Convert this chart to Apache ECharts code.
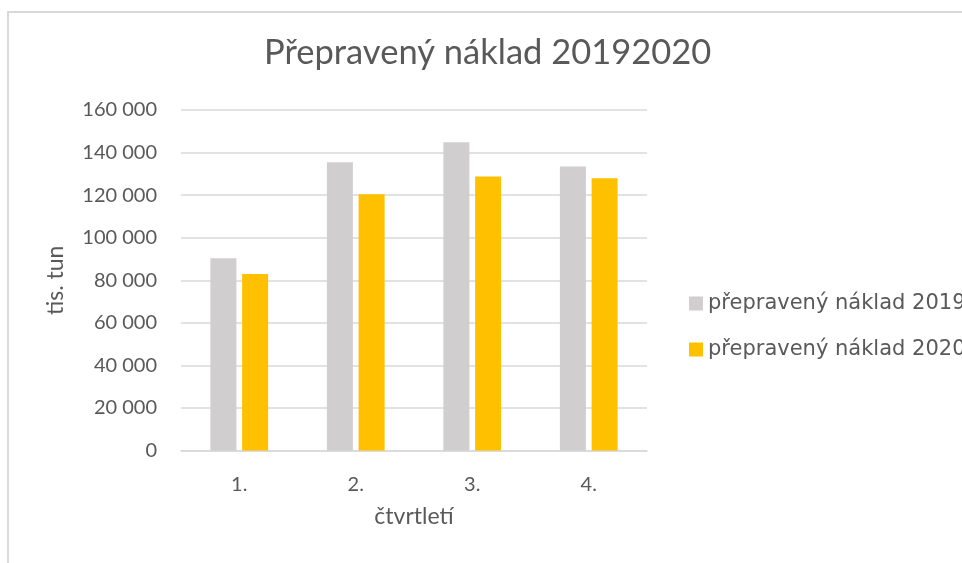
<!DOCTYPE html>
<html>
<head>
<meta charset="utf-8">
<script src="https://cdn.jsdelivr.net/npm/echarts@6/dist/echarts.min.js"></script>
<style>
html,body{margin:0;padding:0;background:#fff;}
#chart{width:962px;height:563px;}
</style>
</head>
<body>
<div id="chart"></div>
<script>
const titleText = 'Přepravený náklad 20192020';
const categories = ['1.', '2.', '3.', '4.'];
const seriesNames = ['přepravený náklad 2019', 'přepravený náklad 2020'];
const values2019 = [90300, 135400, 144800, 133400];
const values2020 = [82900, 120400, 128800, 127900];
const yTicks = [0, 20000, 40000, 60000, 80000, 100000, 120000, 140000, 160000];
const yAxisName = 'tis. tun';
const xAxisName = 'čtvrtletí';

const fmt = v => String(v).replace(/\B(?=(\d{3})+(?!\d))/g, ' ');
const textColor = '#595959';
const gridColor = '#d9d9d9';

const chart = echarts.init(document.getElementById('chart'), null, {renderer: 'canvas'});
chart.setOption({
  animation: false,
  backgroundColor: '#ffffff',
  graphic: [{
    type: 'rect',
    silent: true,
    shape: {x: 8, y: 12, width: 1200, height: 800},
    style: {fill: 'none', stroke: gridColor, lineWidth: 2}
  }],
  title: {
    text: titleText,
    left: 264,
    top: 35,
    padding: 0,
    textStyle: {fontFamily: 'Lato', fontSize: 34.5, fontWeight: 'normal', color: textColor}
  },
  legend: {
    orient: 'vertical',
    left: 689,
    top: 293,
    padding: 0,
    itemWidth: 14,
    itemHeight: 14,
    itemGap: 25,
    icon: 'rect',
    data: seriesNames,
    textStyle: {fontFamily: 'DejaVu Sans', fontSize: 21, color: textColor, lineHeight: 21}
  },
  grid: {left: 181, right: 315, top: 110, bottom: 112.5, containLabel: false},
  xAxis: {
    type: 'category',
    data: categories,
    name: xAxisName,
    nameLocation: 'middle',
    nameGap: 55,
    nameTextStyle: {fontFamily: 'Lato', fontSize: 23, color: textColor},
    axisLine: {show: true, lineStyle: {color: gridColor, width: 1.5}},
    axisTick: {show: false},
    axisLabel: {fontFamily: 'Lato', fontSize: 20, color: textColor, margin: 24}
  },
  yAxis: {
    type: 'value',
    min: yTicks[0],
    max: yTicks[yTicks.length - 1],
    interval: yTicks[1] - yTicks[0],
    name: yAxisName,
    nameLocation: 'middle',
    nameRotate: 90,
    nameGap: 114,
    nameTextStyle: {fontFamily: 'Lato', fontSize: 23, color: textColor},
    axisLine: {show: false},
    axisTick: {show: false},
    splitLine: {lineStyle: {color: gridColor, width: 1.5}},
    axisLabel: {fontFamily: 'Lato', fontSize: 20, color: textColor, margin: 24, formatter: fmt}
  },
  series: [
    {name: seriesNames[0], type: 'bar', data: values2019, barWidth: 26, barGap: '22%', itemStyle: {color: '#D0CECE'}},
    {name: seriesNames[1], type: 'bar', data: values2020, barWidth: 26, barGap: '22%', itemStyle: {color: '#FFC000'}}
  ]
});
</script>
</body>
</html>
